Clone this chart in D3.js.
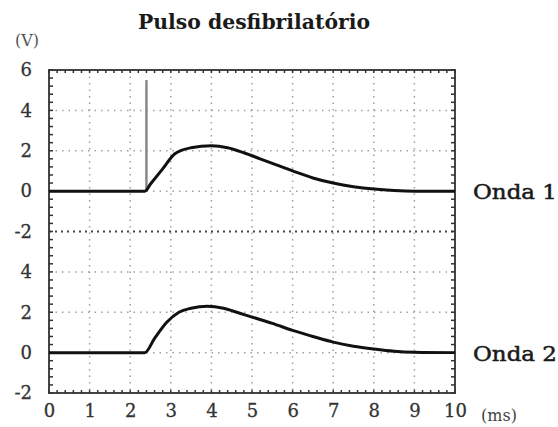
<!DOCTYPE html>
<html><head><meta charset="utf-8">
<script src="https://cdn.jsdelivr.net/npm/d3@7"></script>
<style>html,body{margin:0;padding:0;background:#fff}</style>
</head><body>
<script>
const title = "Pulso desfibrilatório";
const xTicks = [0,1,2,3,4,5,6,7,8,9,10];
const yTickValues = [-2,0,2,4,6,8,10,12,14];
const yTickLabels = ["-2","0","2","4","-2","0","2","4","6"];
const onda1Offset = 8;
const onda1 = [[0,0],[2.36,0],[2.5,0.35],[2.8,1.1],[3.1,1.85],[3.5,2.15],[4.0,2.25],[4.4,2.15],[4.8,1.9],[5.2,1.6],[5.6,1.3],[6.0,1.0],[6.5,0.65],[7.0,0.4],[7.5,0.22],[8.0,0.1],[8.5,0.03],[9,0],[10,0]];
const onda1Spike = [[2.4,0],[2.4,5.5]];
const onda2 = [[0,0],[2.36,0],[2.6,0.7],[2.9,1.5],[3.2,2.0],[3.5,2.2],[3.9,2.3],[4.3,2.2],[4.7,1.95],[5.1,1.7],[5.5,1.45],[6.0,1.1],[6.5,0.8],[7.0,0.52],[7.5,0.32],[8.0,0.18],[8.5,0.07],[9.0,0.02],[10,0]];
const seriesLabels = ["Onda 1","Onda 2"];

const W=558,H=427;
const svg=d3.select("body").append("svg").attr("width",W).attr("height",H);
const x=d3.scaleLinear([0,10],[49,455]);
const y=d3.scaleLinear([-2,14],[393,70]);
const serif="DejaVu Serif";

// grid
const g=svg.append("g");
g.selectAll(".vg").data(xTicks.slice(1,-1)).join("line")
 .attr("x1",d=>x(d)).attr("x2",d=>x(d)).attr("y1",y(14)).attr("y2",y(-2))
 .attr("stroke","#a0a0a0").attr("stroke-width",1.5).attr("stroke-dasharray","1.5,5");
g.selectAll(".hg").data(yTickValues.slice(1,-1)).join("line")
 .attr("x1",x(0)).attr("x2",x(10)).attr("y1",d=>y(d)).attr("y2",d=>y(d))
 .attr("stroke",d=>d===6?"#444":"#a0a0a0").attr("stroke-width",d=>d===6?2:1.5)
 .attr("stroke-dasharray",d=>d===6?"2,4":"1.5,5");

// frame
svg.append("rect").attr("x",x(0)).attr("y",y(14)).attr("width",x(10)-x(0)).attr("height",y(-2)-y(14))
 .attr("fill","none").attr("stroke","#444").attr("stroke-width",2);
const xm=d3.range(0,10.001,0.2), ym=d3.range(-2,14.001,0.4);
svg.append("g").selectAll("line").data(xm).join("line")
 .attr("x1",d=>x(d)).attr("x2",d=>x(d)).attr("y1",y(14)).attr("y2",y(14)+3).attr("stroke","#333").attr("stroke-width",1.5);
svg.append("g").selectAll("line").data(xm).join("line")
 .attr("x1",d=>x(d)).attr("x2",d=>x(d)).attr("y1",y(-2)).attr("y2",y(-2)-3).attr("stroke","#333").attr("stroke-width",1.5);
svg.append("g").selectAll("line").data(ym).join("line")
 .attr("x1",x(0)).attr("x2",x(0)+4).attr("y1",d=>y(d)).attr("y2",d=>y(d)).attr("stroke","#333").attr("stroke-width",1.5);
svg.append("g").selectAll("line").data(ym).join("line")
 .attr("x1",x(10)).attr("x2",x(10)-4).attr("y1",d=>y(d)).attr("y2",d=>y(d)).attr("stroke","#333").attr("stroke-width",1.5);

// axes
const ya=svg.append("g").attr("transform",`translate(${x(0)},0)`)
 .call(d3.axisLeft(y).tickValues(yTickValues).tickSize(0).tickPadding(17).tickFormat((d,i)=>yTickLabels[i]));
ya.select(".domain").remove();
ya.attr("font-family",serif).attr("font-size",18);
ya.selectAll("text").attr("fill","#333").attr("stroke","#333").attr("stroke-width",0.3);
const xa=svg.append("g").attr("transform",`translate(0,${y(-2)})`)
 .call(d3.axisBottom(x).tickValues(xTicks).tickSize(0).tickPadding(11).tickFormat(d3.format("d")));
xa.select(".domain").remove();
xa.attr("font-family",serif).attr("font-size",18);
xa.selectAll("text").attr("fill","#333").attr("stroke","#333").attr("stroke-width",0.3);

// lines
const line=d3.line().x(d=>x(d[0])).curve(d3.curveMonotoneX);
svg.append("path").datum(onda1Spike).attr("d",d3.line().x(d=>x(d[0])).y(d=>y(d[1]+onda1Offset)))
 .attr("stroke","#888").attr("stroke-width",2.5).attr("fill","none");
svg.append("path").datum(onda1).attr("d",line.y(d=>y(d[1]+onda1Offset)))
 .attr("stroke","#111").attr("stroke-width",3).attr("fill","none");
svg.append("path").datum(onda2).attr("d",line.y(d=>y(d[1])))
 .attr("stroke","#111").attr("stroke-width",3).attr("fill","none");

// texts
svg.append("text").attr("x",254).attr("y",29).attr("text-anchor","middle")
 .attr("font-family",serif).attr("font-weight","bold").attr("font-size",20).attr("fill","#1a1a1a")
 .attr("textLength",232).attr("lengthAdjust","spacingAndGlyphs").text(title);
svg.append("text").attr("x",27).attr("y",46).attr("text-anchor","middle")
 .attr("font-family",serif).attr("font-size",16).attr("fill","#555").text("(V)");
svg.append("text").attr("x",499).attr("y",421).attr("text-anchor","middle")
 .attr("font-family",serif).attr("font-size",16).attr("fill","#444").text("(ms)");
svg.selectAll(".sl").data(seriesLabels).join("text")
 .attr("x",473).attr("y",(d,i)=>y(i===0?onda1Offset:0)+8)
 .attr("font-family",serif).attr("font-size",20).attr("fill","#1a1a1a")
 .attr("stroke","#1a1a1a").attr("stroke-width",0.5)
 .attr("textLength",84).attr("lengthAdjust","spacingAndGlyphs").text(d=>d);
</script>
</body></html>
